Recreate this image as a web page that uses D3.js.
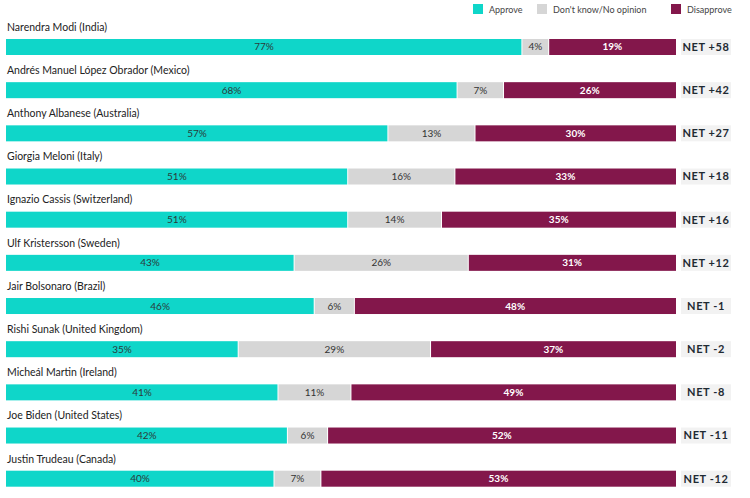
<!DOCTYPE html>
<html><head><meta charset="utf-8">
<script src="https://cdn.jsdelivr.net/npm/d3@7"></script>
<style>body{margin:0;background:#fff}svg{display:block;font-family:Lato,"Open Sans",sans-serif}</style>
</head><body><svg id="c" width="750" height="498"></svg>
<script>
const leaders = ["Narendra Modi (India)","Andrés Manuel López Obrador (Mexico)","Anthony Albanese (Australia)","Giorgia Meloni (Italy)","Ignazio Cassis (Switzerland)","Ulf Kristersson (Sweden)","Jair Bolsonaro (Brazil)","Rishi Sunak (United Kingdom)","Micheál Martin (Ireland)","Joe Biden (United States)","Justin Trudeau (Canada)"];
const approve = [77,68,57,51,51,43,46,35,41,42,40];
const dontKnow = [4,7,13,16,14,26,6,29,11,6,7];
const disapprove = [19,26,30,33,35,31,48,37,49,52,53];
const netLabels = ["NET +58","NET +42","NET +27","NET +18","NET +16","NET +12","NET -1","NET -2","NET -8","NET -11","NET -12"];
const seriesNames = ["Approve","Don't know/No opinion","Disapprove"];
const colors = ["#0fd6c9","#d6d6d6","#83174b"];
const textColors = ["#2b3a3a","#333","#fff"];

const svg = d3.select("#c");
const rows = leaders.map((n,i)=>({name:n, vals:[approve[i],dontKnow[i],disapprove[i]], net:netLabels[i]}));
const y = d3.scaleBand().domain(leaders).range([39-27.2, 39-27.2+43.17*11]).paddingInner(0);
const barH = 16;
const x = d3.scaleLinear().domain([0,1]).range([6,676]);

// legend
const legX = [473,537,671];
const lg = svg.append("g");
seriesNames.forEach((s,i)=>{
  lg.append("rect").attr("x",legX[i]).attr("y",4).attr("width",10).attr("height",10).attr("fill",colors[i]);
  lg.append("text").attr("x",legX[i]+16).attr("y",12.5).attr("font-size",9).attr("fill","#444").text(s);
});

const g = svg.selectAll("g.row").data(rows).join("g").attr("class","row")
  .attr("transform",d=>`translate(0,${y(d.name)})`);
g.append("text").attr("x",7).attr("y",19).attr("font-size",10.5).attr("fill","#222").text(d=>d.name);
g.each(function(d){
  const tot = d3.sum(d.vals);
  let cum = 0;
  const gg = d3.select(this);
  d.vals.forEach((v,j)=>{
    const x0 = x(cum/tot), x1 = x((cum+v)/tot);
    cum += v;
    gg.append("rect").attr("x",x0 + (j>0?0.5:0)).attr("y",27.2).attr("width",x1-x0-(j>0?0.5:0)-(j<2?0.5:0)).attr("height",barH).attr("fill",colors[j]);
    gg.append("text").attr("x",(x0+x1)/2).attr("y",27.2+barH/2).attr("dy","0.35em")
      .attr("text-anchor","middle").attr("font-size",10).attr("font-weight",j==2?700:400)
      .attr("fill",textColors[j]).text(v+"%");
  });
  gg.append("rect").attr("x",681).attr("y",27.2).attr("width",50).attr("height",barH).attr("fill","#f2f2f2");
  gg.append("text").attr("x",706).attr("y",27.2+barH/2).attr("dy","0.36em").attr("text-anchor","middle")
    .attr("font-size",11).attr("font-weight",700).attr("letter-spacing",0.6).attr("fill","#1f2a33").text(d.net);
});
</script></body></html>
